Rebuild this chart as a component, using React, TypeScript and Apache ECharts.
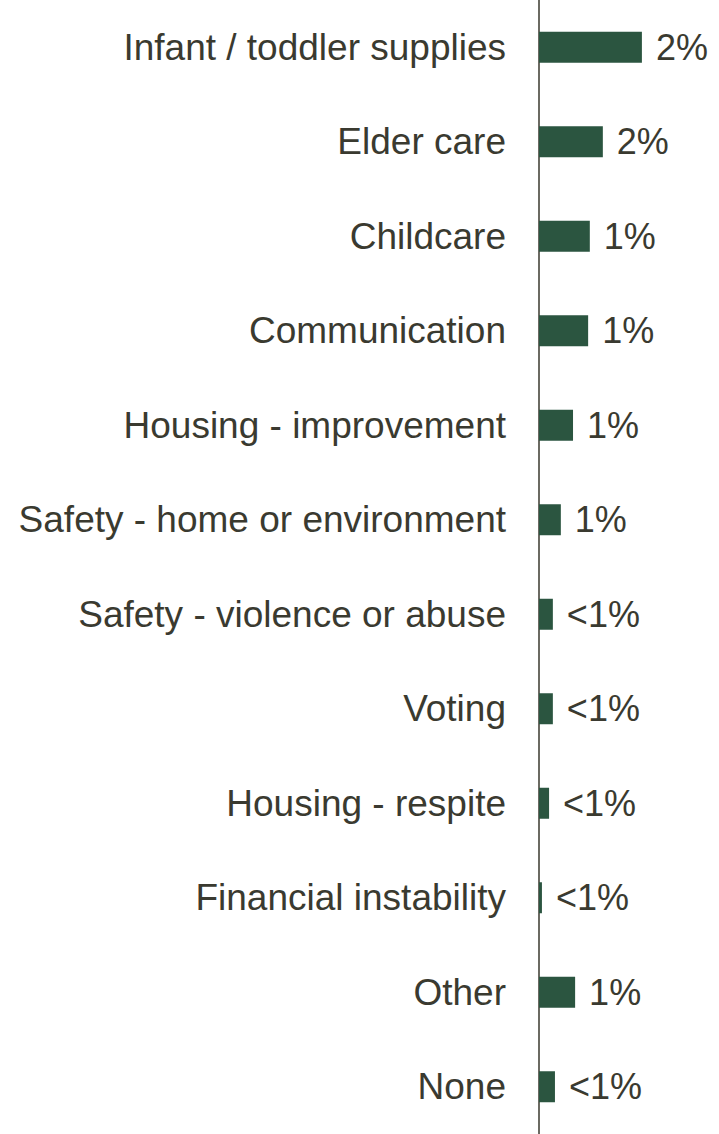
import React, { useEffect, useRef } from "react";
import * as echarts from "echarts";

const categories = [
  "Infant / toddler supplies",
  "Elder care",
  "Childcare",
  "Communication",
  "Housing - improvement",
  "Safety - home or environment",
  "Safety - violence or abuse",
  "Voting",
  "Housing - respite",
  "Financial instability",
  "Other",
  "None",
];
const values = [2.45, 1.52, 1.21, 1.17, 0.81, 0.52, 0.33, 0.33, 0.24, 0.07, 0.86, 0.38];
const valueLabels = ["2%", "2%", "1%", "1%", "1%", "1%", "<1%", "<1%", "<1%", "<1%", "1%", "<1%"];

const FONT = "Arial";

export default function App() {
  const ref = useRef<HTMLDivElement>(null);
  useEffect(() => {
    if (!ref.current) return;
    const chart = echarts.init(ref.current, null, { renderer: "svg" });
    chart.setOption({
      animation: false,
      backgroundColor: "#ffffff",
      grid: { left: 539, right: 12, top: 0, bottom: 0, containLabel: false },
      xAxis: {
        type: "value",
        min: 0,
        max: 4,
        show: false,
      },
      yAxis: {
        type: "category",
        inverse: true,
        data: categories,
        axisLine: { show: true, lineStyle: { color: "#6b6a62", width: 2 } },
        axisTick: { show: false },
        axisLabel: {
          margin: 33,
          fontFamily: FONT,
          fontSize: 37,
          color: "#3a3a30",
        },
      },
      series: [
        {
          type: "bar",
          data: values,
          barWidth: 31,
          itemStyle: { color: "#2b5540" },
          label: {
            show: true,
            position: "right",
            distance: 14,
            fontFamily: FONT,
            fontSize: 36,
            color: "#3a3a30",
            formatter: (p: any) => valueLabels[p.dataIndex],
          },
        },
      ],
    });
    return () => chart.dispose();
  }, []);
  return (
    <div
      ref={ref}
      style={{ position: "fixed", left: 0, top: 0, width: 719, height: 1134, background: "#fff" }}
    />
  );
}
